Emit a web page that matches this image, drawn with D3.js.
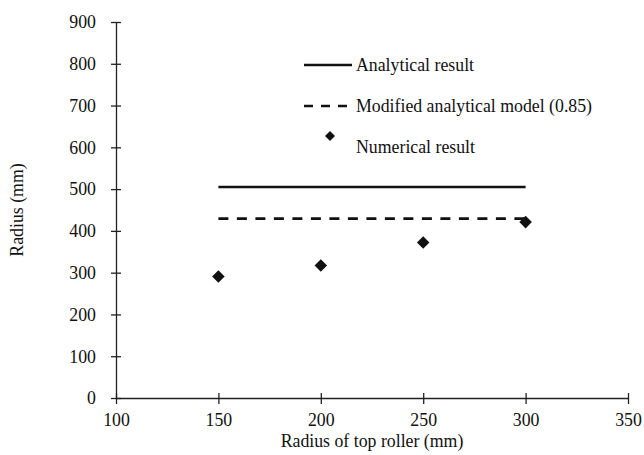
<!DOCTYPE html>
<html>
<head>
<meta charset="utf-8">
<script src="https://cdn.jsdelivr.net/npm/d3@7"></script>
<style>
    body { margin: 0; background: #fff; }
</style>
</head>
<body>
<div id="chart"></div>
<script>
// Chart data
const rollerRadius = [150, 200, 250, 300];
const numerical = [291, 317, 372, 421];
const analyticalRange = [150, 300];
const analytical = 505;
const modifiedFactor = 0.85;
const xTicks = [100, 150, 200, 250, 300, 350];
const yTicks = [0, 100, 200, 300, 400, 500, 600, 700, 800, 900];

const width = 644, height = 455;
const margin = { left: 116, right: 16, top: 22, bottom: 57 };
const FONT = "'Liberation Serif', 'Times New Roman', serif";
const FS = '17.8px';

const svg = d3.select('#chart')
    .append('svg')
    .attr('width', width)
    .attr('height', height);

const x = d3.scaleLinear().domain([100, 350]).range([margin.left, width - margin.right]);
const y = d3.scaleLinear().domain([0, 900]).range([height - margin.bottom, margin.top]);

// Axes (ticks cross the axis line)
const xAxis = svg.append('g')
    .attr('transform', `translate(0, ${y(0)})`)
    .call(d3.axisBottom(x).tickValues(xTicks).tickSize(5).tickSizeOuter(0));
xAxis.selectAll('.tick line').attr('y1', -5).attr('y2', 6);
xAxis.selectAll('.tick text').attr('y', 15).attr('dy', '0.71em');

const yAxis = svg.append('g')
    .attr('transform', `translate(${x(100)}, 0)`)
    .call(d3.axisLeft(y).tickValues(yTicks).tickSize(5).tickSizeOuter(0));
yAxis.selectAll('.tick line').attr('x1', -5).attr('x2', 5);
yAxis.selectAll('.tick text').attr('x', -20).attr('dy', '0.33em');

svg.selectAll('.domain').attr('stroke', '#222').attr('stroke-width', 1.3);
svg.selectAll('.tick line').attr('stroke', '#222').attr('stroke-width', 1.3);

// Analytical lines
svg.append('line')
    .attr('x1', x(analyticalRange[0])).attr('x2', x(analyticalRange[1]))
    .attr('y1', y(analytical)).attr('y2', y(analytical))
    .attr('stroke', '#111').attr('stroke-width', 2.6);

svg.append('line')
    .attr('x1', x(analyticalRange[0])).attr('x2', x(analyticalRange[1]))
    .attr('y1', y(analytical * modifiedFactor)).attr('y2', y(analytical * modifiedFactor))
    .attr('stroke', '#111').attr('stroke-width', 2.6)
    .attr('stroke-dasharray', '10,8.5');

// Numerical points
const diamond = d3.symbol().type(d3.symbolDiamond2).size(100);
svg.selectAll('.pt')
    .data(rollerRadius)
    .enter()
    .append('path')
    .attr('class', 'pt')
    .attr('d', diamond)
    .attr('fill', '#111')
    .attr('transform', (d, i) => `translate(${x(d)}, ${y(numerical[i])})`);

// Legend
const legend = svg.append('g');
legend.append('line')
    .attr('x1', 304).attr('x2', 352).attr('y1', 65).attr('y2', 65)
    .attr('stroke', '#111').attr('stroke-width', 2.6);
legend.append('line')
    .attr('x1', 304).attr('x2', 352).attr('y1', 106).attr('y2', 106)
    .attr('stroke', '#111').attr('stroke-width', 2.6)
    .attr('stroke-dasharray', '9,8');
legend.append('path')
    .attr('d', d3.symbol().type(d3.symbolDiamond2).size(64))
    .attr('fill', '#111')
    .attr('transform', 'translate(330, 136)');

const legendItems = ['Analytical result', 'Modified analytical model (0.85)', 'Numerical result'];
legend.selectAll('.lt')
    .data(legendItems)
    .enter()
    .append('text')
    .attr('class', 'lt')
    .attr('x', 356)
    .attr('y', (d, i) => 65 + i * 41)
    .attr('dy', '0.33em')
    .text(d => d);

// Axis titles
svg.append('text')
    .attr('x', (x(100) + x(350)) / 2)
    .attr('y', 447)
    .attr('text-anchor', 'middle')
    .text('Radius of top roller (mm)');

svg.append('text')
    .attr('transform', `translate(23, ${y(450)}) rotate(-90)`)
    .attr('text-anchor', 'middle')
    .text('Radius (mm)');

// Same serif face everywhere
svg.selectAll('text')
    .style('font-family', FONT)
    .style('font-size', FS)
    .attr('fill', '#111');
</script>
</body>
</html>
